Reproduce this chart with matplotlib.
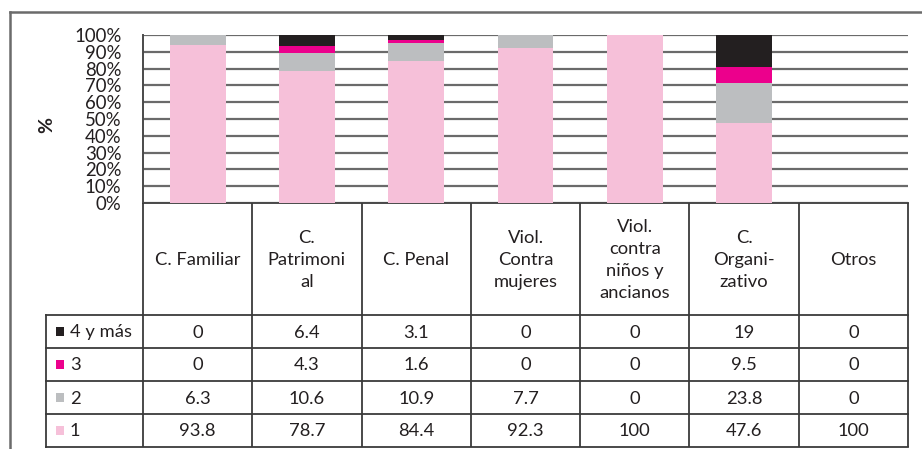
import matplotlib
matplotlib.use('Agg')
import matplotlib.pyplot as plt
import numpy as np

# ---------------- data ----------------
categories = ["C. Familiar", "C.\nPatrimoni\nal", "C. Penal", "Viol.\nContra\nmujeres",
              "Viol.\ncontra\nniños y\nancianos", "C.\nOrgani-\nzativo", "Otros"]
series_names = ["4 y más", "3", "2", "1"]
s4 = [0, 6.4, 3.1, 0, 0, 19, 0]
s3 = [0, 4.3, 1.6, 0, 0, 9.5, 0]
s2 = [6.3, 10.6, 10.9, 7.7, 0, 23.8, 0]
s1 = [93.8, 78.7, 84.4, 92.3, 100, 47.6, 100]
n_plotted = 6  # the chart draws no bar for "Otros"
ytick_vals = list(range(0, 101, 10))
ytick_labels = [f"{v}%" for v in ytick_vals]

series = {"4 y más": s4, "3": s3, "2": s2, "1": s1}
colors = {"1": "#F6C0D9", "2": "#BCBEC0", "3": "#EC008C", "4 y más": "#231F20"}

plt.rcParams['font.family'] = ['Lato', 'DejaVu Sans']

W, H = 922, 449
fig = plt.figure(figsize=(W / 100, H / 100), dpi=100)
fig.patch.set_facecolor('white')

def fx(px):
    return px / W

def fy(py):
    return 1 - py / H

x_left, x_right = 143, 908
y_top, y_bot = 35, 203

ax = fig.add_axes([fx(x_left), fy(y_bot), (x_right - x_left) / W, (y_bot - y_top) / H])
ax.set_xlim(-0.5, len(categories) - 0.5)
ax.set_ylim(0, 100)

x = np.arange(n_plotted)
bottom = np.zeros(n_plotted)
for name in ["1", "2", "3", "4 y más"]:
    vals = np.array(series[name][:n_plotted], dtype=float)
    ax.bar(x, vals, bottom=bottom, width=0.51, color=colors[name], linewidth=0, zorder=3)
    bottom += vals

ax.set_yticks(ytick_vals)
ax.set_yticklabels(ytick_labels, fontsize=13.4, color='#231F20')
ax.yaxis.grid(True, color='#6a6a6a', linewidth=1.6, zorder=0)
ax.set_axisbelow(True)
ax.set_xticks([])
ax.tick_params(axis='y', length=0, pad=15.5)
for s in ['top', 'right']:
    ax.spines[s].set_visible(False)
ax.spines['left'].set_color('#4a4a4a')
ax.spines['left'].set_linewidth(1.4)
ax.spines['bottom'].set_color('#4a4a4a')
ax.spines['bottom'].set_linewidth(1.4)

fig.text(fx(47), fy(125), "%", rotation=90, fontsize=14, fontweight='bold',
         ha='center', va='center', color='#231F20')

# ---------------- table overlay ----------------
tab = fig.add_axes([0, 0, 1, 1])
tab.set_xlim(0, W)
tab.set_ylim(H, 0)
tab.axis('off')
tab.patch.set_alpha(0)

lc = '#3a3a3a'
lw = 1.3
col_edges = np.linspace(x_left, x_right, len(categories) + 1)
col_centers = (col_edges[:-1] + col_edges[1:]) / 2
row_edges = [315, 348, 381, 414, 447]
leg_left = 46

for xe in col_edges:
    tab.plot([xe, xe], [y_bot, row_edges[-1]], color=lc, lw=lw, solid_capstyle='butt')
tab.plot([leg_left, leg_left], [row_edges[0], row_edges[-1]], color=lc, lw=lw)
for ye in row_edges:
    tab.plot([leg_left, x_right], [ye, ye], color=lc, lw=lw)

# outer frame
tab.plot([10, W], [12, 12], color='#6b6b6b', lw=1.8)
tab.plot([10, 10], [12, H], color='#6b6b6b', lw=1.8)

fs = 13.2
for cx, cat in zip(col_centers, categories):
    tab.text(cx, (y_bot + row_edges[0]) / 2 + 1, cat, ha='center', va='center',
             fontsize=fs, linespacing=1.48, color='#231F20')

for i, name in enumerate(series_names):
    yc = (row_edges[i] + row_edges[i + 1]) / 2
    tab.add_patch(plt.Rectangle((56, yc - 4.5), 8, 9, color=colors[name], lw=0))
    tab.text(70, yc + 1, name, ha='left', va='center', fontsize=fs, color='#231F20')
    for cx, v in zip(col_centers, series[name]):
        tab.text(cx, yc + 1, f"{v:g}", ha='center', va='center', fontsize=fs, color='#231F20')

fig.savefig('out.png', dpi=100)
